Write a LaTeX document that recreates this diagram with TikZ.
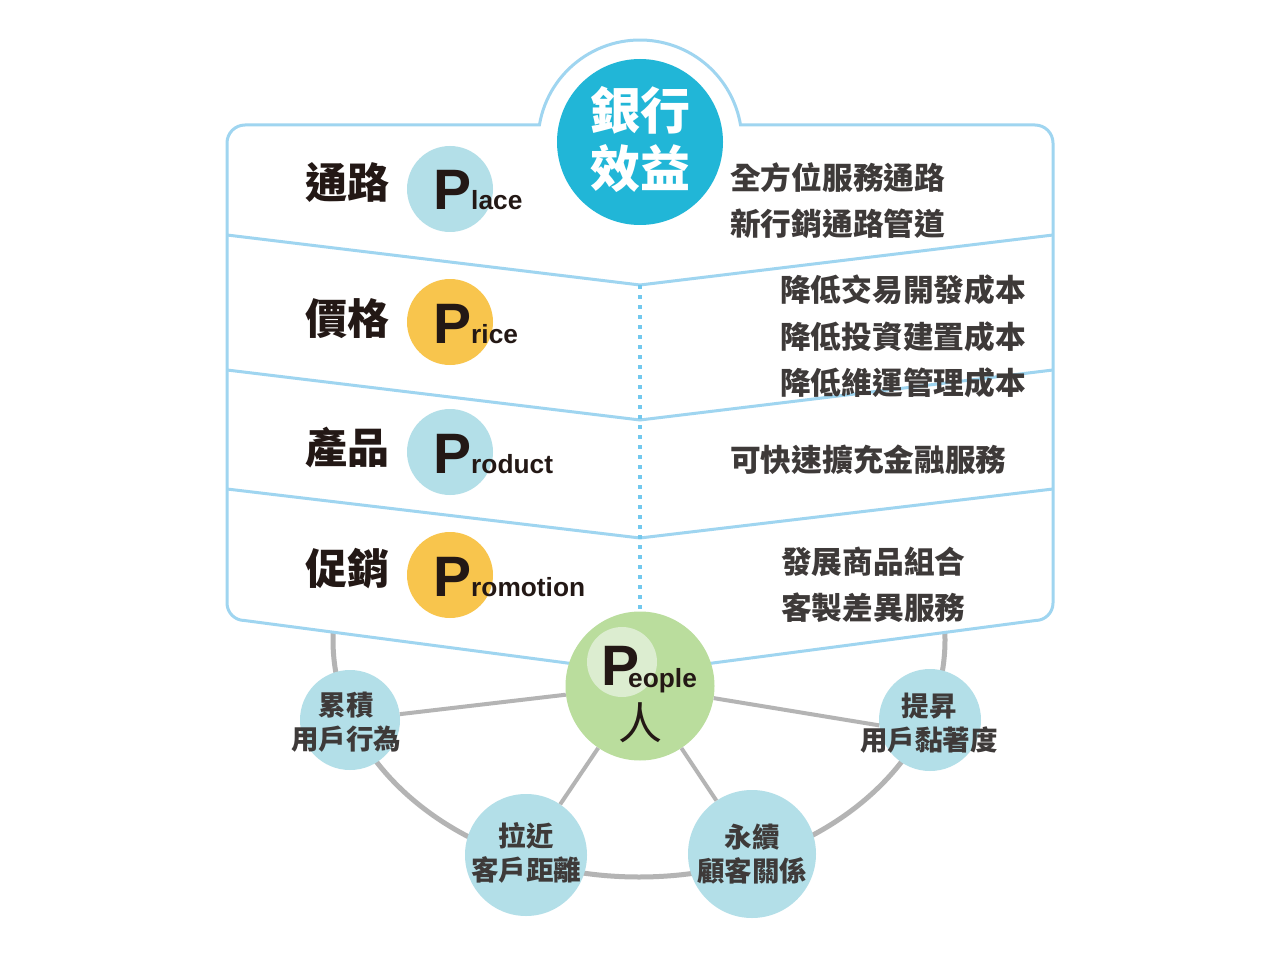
\documentclass[tikz,border=0pt]{standalone}
\usepackage{fontspec}
\setmainfont{Liberation Sans}
\newfontfamily\cjk{Noto Sans CJK TC}
\definecolor{frameblue}{HTML}{9FD5F0}
\definecolor{dotblue}{HTML}{72C8EE}
\definecolor{topblue}{HTML}{21B6D7}
\definecolor{lblue}{HTML}{B3DFE8}
\definecolor{pyellow}{HTML}{F8C54D}
\definecolor{pgreen}{HTML}{BADD9D}
\definecolor{plgreen}{HTML}{DCEDD0}
\definecolor{ringgray}{HTML}{B4B4B4}
\definecolor{darktext}{HTML}{231815}
\definecolor{graytext}{HTML}{3E3A39}
\begin{document}
\begin{tikzpicture}[x=1pt,y=-1pt,
  framestyle/.style={draw=frameblue, line width=3pt},
  pcirc/.style={circle, inner sep=0pt, minimum size=86pt},
  leftlbl/.style={inner sep=0pt, font=\cjk\bfseries\fontsize{42}{42}\selectfont, text=darktext},
  righttxt/.style={anchor=west, inner sep=0pt, font=\cjk\bfseries\fontsize{30.7}{30.7}\selectfont, text=graytext},
  pword/.style={anchor=base west, inner sep=0pt, font=\bfseries, text=darktext},
  subcirc/.style={circle, fill=lblue, inner sep=0pt},
  subtxt/.style={align=center, inner sep=0pt, font=\cjk\bfseries\fontsize{27.5}{34}\selectfont, text=graytext},
  spoke/.style={draw=ringgray, line width=4pt}
]
\useasboundingbox (0,0) rectangle (1280,960);
\fill[white] (0,0) rectangle (1280,960);

% ring
\draw[ringgray, line width=5pt] (639,640) ellipse [x radius=306, y radius=237];

% frame
\path[framestyle, fill=white]
  (227,603) -- (227,143)
  arc[start angle=180, end angle=270, radius=18]
  -- (539.4,125)
  arc[start angle=189.6, end angle=350.4, radius=102]
  -- (1035,125)
  arc[start angle=270, end angle=360, radius=18]
  -- (1053,603)
  arc[start angle=0, end angle=90, radius=17.5]
  -- (640,672.6) -- (244.5,620.5)
  arc[start angle=90, end angle=180, radius=17.5]
  -- cycle;

% separators
\coordinate (v1) at (640,285);
\coordinate (v2) at (640,420);
\coordinate (v3) at (640,538);
\draw[framestyle] (227,235) -- (v1) -- (1053,235);
\draw[framestyle] (227,370) -- (v2) -- (1053,370);
\draw[framestyle] (227,489) -- (v3) -- (1053,489);

% top circle
\node[circle, fill=topblue, inner sep=0pt, minimum size=166pt] (bank) at (640,142) {};
\node[align=center, inner sep=0pt, text=white, font=\cjk\bfseries\fontsize{50}{58}\selectfont] (banktxt) at (640,139) {銀行\\效益};

% left labels
\node[leftlbl] (l1) at (347,183) {通路};
\node[leftlbl] (l2) at (347,319) {價格};
\node[leftlbl] (l3) at (347,448) {產品};
\node[leftlbl] (l4) at (347,569) {促銷};

% P circles
\node[pcirc, fill=lblue] (place) at (450,189) {};
\node[pcirc, fill=pyellow] (price) at (450,322) {};
\node[pcirc, fill=lblue] (product) at (450,452) {};
\node[pcirc, fill=pyellow] (promo) at (450,575) {};
\node[pword] (placet) at (433,210) {\fontsize{57}{57}\selectfont P\fontsize{26.3}{26}\selectfont lace};
\node[pword] (pricet) at (433,343) {\fontsize{57}{57}\selectfont P\fontsize{26.3}{26}\selectfont rice};
\node[pword] (productt) at (433,473) {\fontsize{57}{57}\selectfont P\fontsize{26.3}{26}\selectfont roduct};
\node[pword] (promot) at (433,596) {\fontsize{57}{57}\selectfont P\fontsize{26.3}{26}\selectfont romotion};

% right texts
\node[righttxt] (r1) at (730,178) {全方位服務通路};
\node[righttxt] (r2) at (730,224) {新行銷通路管道};
\node[righttxt] (r3) at (780,290) {降低交易開發成本};
\node[righttxt] (r4) at (780,337) {降低投資建置成本};
\node[righttxt] (r5) at (780,383) {降低維運管理成本};
\node[righttxt] (r6) at (730,460) {可快速擴充金融服務};
\node[righttxt] (r7) at (781,562) {發展商品組合};
\node[righttxt] (r8) at (781,608) {客製差異服務};

% people
\node[circle, fill=pgreen, inner sep=0pt, minimum size=149pt] (people) at (640,686) {};
\draw[dotblue, line width=4pt, dash pattern=on 4pt off 6pt] (v1) -- (people.north);
\node[circle, fill=plgreen, inner sep=0pt, minimum size=70pt] (inner) at (622,662) {};
\node[pword] (peoplet) at (601,685) {\fontsize{57}{57}\selectfont P\kern-11pt\raisebox{-2pt}{\fontsize{26.3}{26}\selectfont eople}};
\node[inner sep=0pt, text=darktext, font=\cjk\fontsize{44}{44}\selectfont] (ren) at (640,723) {人};

% sub circles
\node[subcirc, minimum size=100pt] (leiji) at (350,720) {};
\node[subcirc, minimum size=102pt] (tisheng) at (930,720) {};
\node[subcirc, minimum size=122pt] (lajin) at (526,855) {};
\node[subcirc, minimum size=128pt] (yongxu) at (752,854) {};
\node[subtxt] at (346,722) {累積\\用戶行為};
\node[subtxt] at (929,723) {提昇\\用戶黏著度};
\node[subtxt] at (526,853) {拉近\\客戶距離};
\node[subtxt] at (752,854) {永續\\顧客關係};

% spokes
\draw[spoke] (people) -- (leiji);
\draw[spoke] (people) -- (tisheng.186);
\draw[spoke] (people) -- (lajin);
\draw[spoke] (people) -- (yongxu);
\end{tikzpicture}
\end{document}
